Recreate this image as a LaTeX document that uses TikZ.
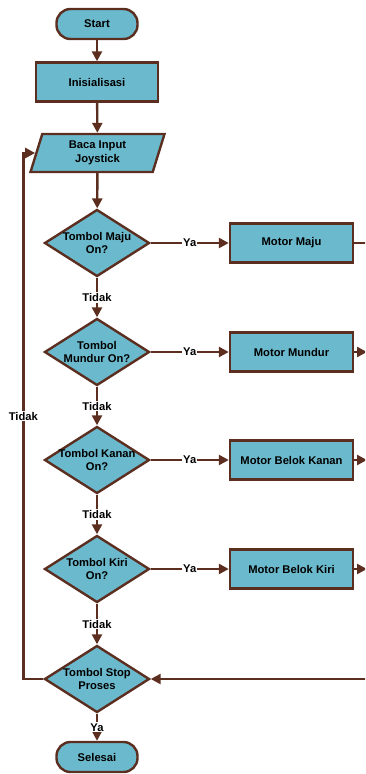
\documentclass[tikz,border=0pt]{standalone}
\usepackage{fontspec}
\setmainfont{Liberation Sans}
\usetikzlibrary{shapes.geometric,arrows.meta}

\definecolor{boxfill}{HTML}{6BB9CC}
\definecolor{edge}{HTML}{5C2E20}

\tikzset{
  base/.style={draw=edge, fill=boxfill, line width=2.4pt,
    font=\fontsize{11.2}{13.5}\selectfont\bfseries, text=black, align=center, inner sep=0pt},
  terminal/.style={base, rectangle, rounded corners=14pt, minimum width=81pt, minimum height=30pt},
  process/.style={base, rectangle, minimum width=122pt, minimum height=39pt},
  motor/.style={base, rectangle, minimum width=123pt, minimum height=39pt},
  inout/.style={base, trapezium, trapezium left angle=63.4, trapezium right angle=116.6,
    trapezium stretches body, minimum width=134pt, minimum height=38pt},
  decision/.style={base, diamond, minimum width=105pt, minimum height=67pt},
  dtext/.style={font=\fontsize{11.2}{13.5}\selectfont\bfseries, align=center, inner sep=0pt},
  flow/.style={draw=edge, line width=2.4pt},
  arr/.style={flow, -{Triangle[length=10pt,width=10pt]}},
  tag/.style={fill=white, font=\fontsize{11.2}{12}\selectfont\bfseries, inner sep=1pt}
}

\begin{document}
\begin{tikzpicture}[x=1pt, y=-1pt]
\path[use as bounding box, clip] (0,0) rectangle (365,774);

% main column
\node[terminal] (start) at (97,24) {Start};
\node[process] (init) at (97,82) {Inisialisasi};
\node[inout] (baca) at (97.5,153) {Baca Input\\Joystick};
\node[decision] (maju) at (97,243) {};
\node[dtext] at (maju.center) {Tombol Maju\\On?};
\node[decision] (mundur) at (97,352) {};
\node[dtext] at (mundur.center) {Tombol\\Mundur On?};
\node[decision] (kanan) at (97,460) {};
\node[dtext] at (kanan.center) {Tombol Kanan\\On?};
\node[decision] (kiri) at (97,569) {};
\node[dtext] at (kiri.center) {Tombol Kiri\\On?};
\node[decision] (stop) at (97,679) {};
\node[dtext] at (stop.center) {Tombol Stop\\Proses};
\node[terminal] (selesai) at (97,757) {Selesai};

% motor actions
\node[motor] (mmaju) at (291.5,243) {Motor Maju};
\node[motor] (mmundur) at (291.5,352) {Motor Mundur};
\node[motor] (mkanan) at (291.5,460) {Motor Belok Kanan};
\node[motor] (mkiri) at (291.5,569) {Motor Belok Kiri};

% free ends at the right border
\coordinate (oMaju) at (370,243);
\coordinate (oMundur) at (367,352);
\coordinate (oKanan) at (367,460);
\coordinate (oKiri) at (367,569);
\coordinate (iStop) at (370,679);

% vertical flow
\draw[arr] (start) -- (init);
\draw[arr] (init) -- (baca);
\draw[arr] (baca) -- (maju);
\draw[arr] (maju) -- node[tag] {Tidak} (mundur);
\draw[arr] (mundur) -- node[tag] {Tidak} (kanan);
\draw[arr] (kanan) -- node[tag] {Tidak} (kiri);
\draw[arr] (kiri) -- node[tag] {Tidak} (stop);
\draw[arr] (stop) -- node[tag] {Ya} (selesai);

% branches to the motors
\draw[arr] (maju.east) -- node[tag] {Ya} (mmaju.west);
\draw[arr] (mundur.east) -- node[tag] {Ya} (mmundur.west);
\draw[arr] (kanan.east) -- node[tag] {Ya} (mkanan.west);
\draw[arr] (kiri.east) -- node[tag] {Ya} (mkiri.west);

% motor outputs and return into the stop test
\draw[flow] (mmaju.east) -- (oMaju);
\draw[arr] (mmundur.east) -- (oMundur);
\draw[arr] (mkanan.east) -- (oKanan);
\draw[arr] (mkiri.east) -- (oKiri);
\draw[arr] (iStop) -- (stop.east);

% loop back to reading the joystick
\draw[arr] (stop.west) -- ++(-20,0) |- node[tag, pos=0.25] {Tidak} (baca.west);
\end{tikzpicture}
\end{document}
